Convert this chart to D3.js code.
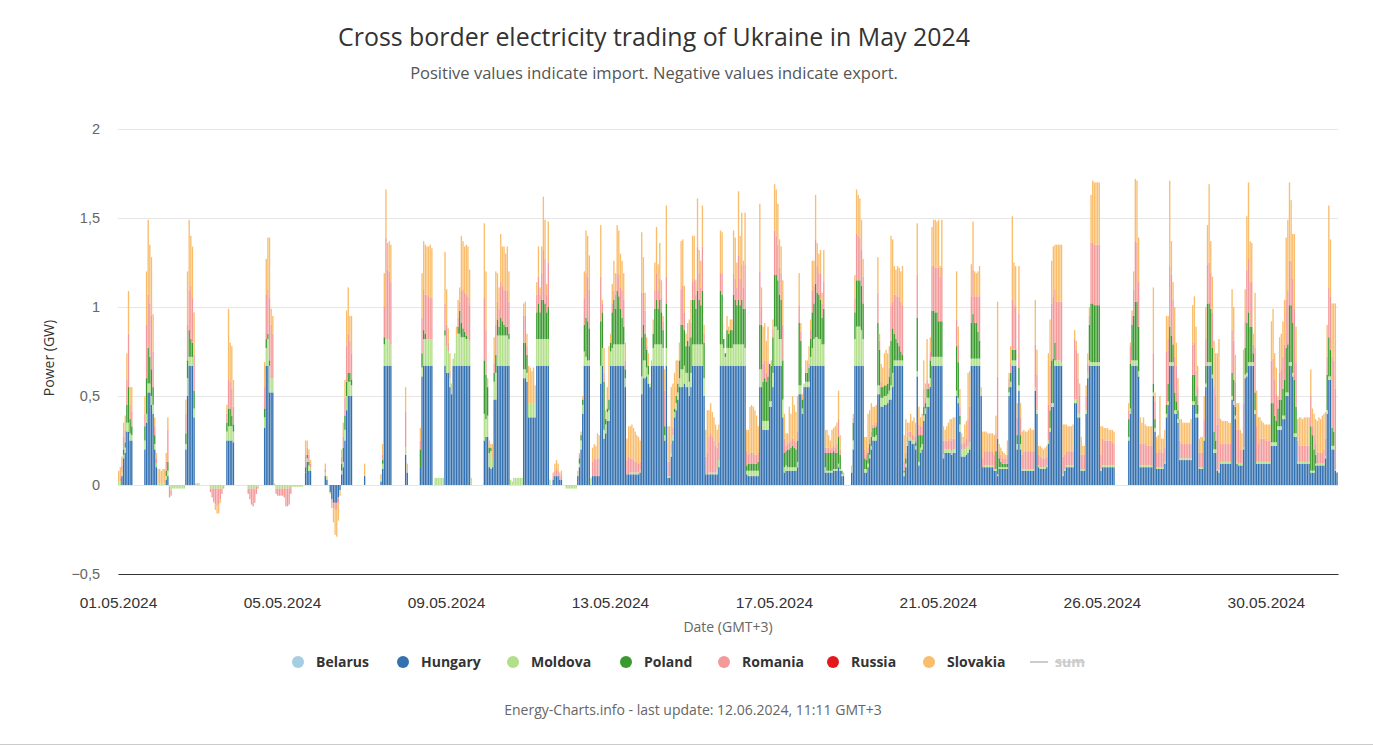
<!DOCTYPE html>
<html><head><meta charset="utf-8">
<script src="https://cdn.jsdelivr.net/npm/d3@7"></script>
<style>
body{margin:0;background:#fff;}
svg{display:block;font-family:"Open Sans","Noto Sans",sans-serif;}
</style></head><body>
<svg id="chart" width="1373" height="746"></svg>
<script>
// ---- DATA (hourly, May 2024, values in hundredths of GW; one row per day) ----
const countries = ["Belarus","Hungary","Moldova","Poland","Romania","Russia","Slovakia"];
const seriesColors = ["#a6cee3","#3471b0","#b2df8a","#3a9a2e","#f4999a","#e31a1c","#f9bd6c"];
const belarus = []; // no exchange recorded
const russia = [];  // no exchange recorded
const hungary = [
[0,0,5,15,18,30,30,25,25,0,0,0,0,0,0,0,20,35,52,52,45,40,20,10],
[0,0,0,0,0,3,5,0,0,0,0,0,0,0,0,0,0,20,50,67,67,67,38,0],
[0,0,0,0,0,0,0,0,0,0,0,0,0,0,0,0,0,0,25,25,25,25,24,0],
[0,0,0,0,0,0,0,0,0,0,0,0,0,0,0,0,0,32,67,67,52,52,52,0],
[0,0,0,0,0,0,0,0,0,0,0,0,0,0,0,0,0,0,7,13,8,8,0,0],
[0,0,0,0,0,0,5,3,0,-4,-8,-10,-10,-10,-7,-3,6,10,25,42,50,50,50,0],
[0,0,0,0,0,0,5,0,0,0,0,0,0,0,0,0,2,9,67,67,67,67,67,0],
[0,0,0,0,0,0,0,17,7,0,0,0,0,0,0,0,10,61,67,67,67,67,67,67],
[0,0,0,0,0,0,0,67,63,63,55,51,67,67,67,67,67,67,67,67,67,67,67,0],
[0,0,0,0,0,0,0,25,27,27,10,9,10,48,48,67,67,67,67,67,67,67,67,0],
[0,0,0,0,0,0,0,60,60,58,38,38,38,38,38,67,67,67,67,67,67,67,67,0],
[0,3,5,5,5,3,3,0,0,0,0,0,0,0,0,0,5,10,20,40,67,67,67,67],
[0,5,5,5,5,5,57,67,26,29,36,36,67,67,67,67,67,67,67,67,67,55,6,6],
[6,6,6,6,6,6,7,51,60,60,61,57,55,67,67,67,67,67,67,67,67,25,67,4],
[4,16,25,38,42,48,55,55,55,57,55,55,50,55,67,67,67,67,67,67,67,50,6,6],
[6,6,6,6,6,6,10,67,67,67,67,67,67,67,67,67,67,67,67,67,67,67,67,6],
[5,5,5,5,5,5,5,55,55,31,31,31,31,44,44,55,67,67,67,67,67,38,7,8],
[8,8,8,8,8,8,10,51,51,40,55,55,55,55,67,67,67,67,67,67,67,67,67,7],
[7,7,7,7,8,8,8,10,8,5,5,0,0,0,0,7,20,67,67,67,67,67,67,7],
[7,10,15,20,25,25,25,51,51,44,44,45,45,46,48,48,55,67,67,67,67,67,67,5],
[10,22,25,25,23,23,20,61,11,18,20,36,40,44,44,55,67,67,67,67,67,67,67,15],
[18,18,18,18,17,18,18,50,46,30,16,16,16,17,18,20,67,67,67,67,67,67,50,10],
[10,10,10,10,10,10,8,8,5,9,9,9,9,9,9,50,55,67,67,67,20,53,20,8],
[8,8,8,8,8,8,8,53,40,10,9,9,9,9,10,23,30,44,44,67,67,67,67,67],
[5,8,10,10,10,10,10,46,46,38,38,8,8,8,40,60,67,67,67,67,67,67,67,8],
[10,10,10,10,10,10,10,10,0,0,0,0,0,0,0,0,25,40,67,67,67,67,61,10],
[10,10,10,10,10,10,10,50,30,9,9,9,9,9,12,38,45,67,67,67,40,40,35,14],
[14,14,14,14,14,14,14,45,45,38,38,9,9,9,25,55,67,67,67,60,18,18,8,7],
[12,12,12,12,12,12,12,48,45,37,12,11,11,11,20,60,61,67,67,67,67,40,12,12],
[12,12,12,12,12,12,12,22,22,22,22,31,31,31,37,37,50,50,67,67,61,27,27,12],
[12,12,12,12,12,12,12,7,7,7,11,11,11,11,11,11,15,40,59,59,20,20,8,7]
].flat();
const moldova = [
[2,2,2,2,3,5,5,4,3,0,0,0,0,0,0,0,5,5,5,5,5,5,3,2],
[1,1,1,1,1,2,3,-1,-3,-2,-2,-2,-2,-2,-2,-2,-2,3,10,5,5,5,5,1],
[1,1,0,0,0,0,0,0,-2,-2,-2,-2,-2,-2,-2,-2,-1,0,5,8,8,8,6,0],
[0,0,0,0,0,0,0,-2,-2,-2,-2,-2,-1,-1,0,0,0,6,10,15,15,8,8,1],
[-2,-2,-2,-2,-2,-2,-2,-2,-2,-1,-1,-1,-1,-1,-1,-1,-1,0,0,2,3,2,0,0],
[0,0,0,0,0,0,2,1,0,-1,0,0,0,0,0,0,2,3,6,8,8,8,6,0],
[0,0,0,0,0,0,0,0,0,0,0,0,0,0,0,0,1,3,12,15,15,15,12,0],
[0,0,0,0,0,0,0,4,0,0,0,0,0,0,0,0,0,5,15,15,15,15,15,15],
[0,4,4,4,4,4,4,17,15,12,5,3,4,7,17,18,18,16,16,16,15,15,14,4],
[0,0,0,0,0,0,0,15,10,12,8,10,4,10,15,17,17,17,17,17,17,17,15,3],
[2,4,4,4,4,4,4,5,5,5,8,8,8,8,8,15,15,15,15,15,15,15,15,3],
[0,0,0,0,0,0,0,0,0,-2,-2,-2,-2,-2,-2,-2,1,2,5,5,8,5,3,3],
[4,0,0,0,0,0,10,10,5,5,5,6,8,10,12,12,12,12,12,12,12,5,0,0],
[1,1,1,1,1,1,1,10,10,10,5,5,2,3,10,12,12,12,12,12,10,3,10,1],
[1,2,3,3,4,4,5,10,10,10,8,8,8,8,12,12,12,12,12,12,12,10,0,0],
[1,1,1,1,1,3,4,12,12,10,5,10,10,10,10,12,12,12,12,12,12,12,10,2],
[3,3,3,3,3,3,3,10,10,5,5,5,5,3,3,8,22,22,20,15,15,10,3,3],
[2,2,2,2,2,2,3,5,5,3,2,3,3,3,5,10,15,16,16,15,15,12,12,3],
[1,1,1,1,1,1,1,2,1,1,2,0,0,0,0,2,5,15,22,22,22,20,15,2],
[2,2,2,2,2,2,3,5,5,5,5,5,5,5,5,8,8,3,3,3,3,3,3,2],
[2,2,2,2,2,2,2,3,2,3,3,3,3,5,5,5,5,5,5,5,5,5,5,2],
[2,2,2,2,2,2,2,3,3,4,4,4,4,4,4,4,4,4,4,4,4,4,2,0],
[1,1,1,1,1,1,1,1,1,1,1,1,1,1,1,2,3,3,3,3,3,3,3,1],
[1,1,1,1,1,1,1,2,2,1,1,1,1,1,1,2,2,2,2,3,3,3,3,2],
[1,1,1,1,1,1,1,2,2,2,2,1,1,1,2,3,3,2,2,2,2,2,2,1],
[1,1,1,1,1,1,1,1,0,0,0,0,0,0,0,0,2,3,3,3,3,3,3,1],
[1,1,1,1,1,1,1,2,2,1,1,1,1,1,1,2,2,2,2,2,2,2,2,1],
[1,1,1,1,1,1,1,2,2,2,2,1,1,1,2,2,2,2,2,2,2,2,1,1],
[1,1,1,1,1,1,1,2,2,2,1,1,1,1,1,2,2,2,2,2,2,2,1,1],
[1,1,1,1,1,1,1,2,2,2,2,2,2,2,2,2,2,2,2,2,2,2,2,1],
[1,1,1,1,1,1,1,1,1,1,1,1,1,1,1,1,1,2,2,2,2,2,1,0]
].flat();
const poland = [
[0,0,0,3,3,10,20,8,5,0,0,0,0,0,0,0,8,20,20,15,15,10,5,0],
[0,0,0,0,0,3,5,0,0,0,0,0,0,0,0,0,0,6,10,15,10,8,10,0],
[0,0,0,0,0,0,0,0,0,0,0,0,0,0,0,0,0,0,5,10,10,6,4,0],
[0,0,0,0,0,0,0,0,0,0,0,0,0,0,0,0,0,5,5,3,3,0,0,0],
[0,0,0,0,0,0,0,0,0,0,0,0,0,0,0,0,0,0,3,2,2,0,0,0],
[0,0,0,0,0,0,0,0,0,0,0,0,0,0,0,0,4,8,8,8,5,5,3,0],
[0,0,0,0,0,0,0,0,0,0,0,0,0,0,0,0,0,2,4,0,0,0,0,0],
[0,0,0,0,0,0,0,0,0,0,0,0,0,0,0,0,10,8,5,3,0,0,0,0],
[0,0,0,0,0,0,0,3,0,0,0,0,0,0,0,4,13,8,5,3,2,0,0,0],
[0,0,0,0,0,0,0,30,25,16,3,2,0,5,10,9,5,10,8,6,5,5,3,0],
[0,0,0,0,0,0,0,15,15,10,0,0,0,0,0,15,20,15,22,22,20,15,18,0],
[0,0,0,0,0,0,0,0,0,0,0,0,0,0,0,0,0,3,3,3,15,22,22,18],
[0,0,0,0,0,0,25,20,27,3,2,6,5,20,25,20,30,27,20,15,10,5,0,0],
[0,0,0,0,0,0,0,22,20,15,10,5,0,0,8,20,25,20,25,18,10,5,25,0],
[0,0,0,2,4,5,10,25,25,20,15,18,20,20,25,25,20,30,25,22,30,20,0,0],
[0,0,0,0,0,0,0,30,28,5,2,10,8,10,10,28,25,22,25,22,25,20,22,3],
[4,4,4,4,4,4,5,25,25,22,24,22,25,21,20,20,29,29,28,25,22,22,8,8],
[10,10,11,12,11,10,12,35,25,5,0,5,5,8,10,20,20,30,25,25,22,15,20,8],
[10,10,10,10,10,9,9,15,8,2,0,0,0,0,0,0,10,15,26,26,26,25,20,6],
[5,6,6,5,5,5,5,35,20,6,6,6,6,6,8,25,25,15,12,10,8,5,3,1],
[3,0,0,0,0,0,2,30,15,7,5,5,3,5,5,10,26,26,25,25,20,20,20,0],
[0,0,0,0,0,0,0,25,20,5,0,0,0,0,0,0,20,25,20,20,15,10,0,0],
[0,0,0,0,0,0,0,10,20,5,3,2,2,2,2,3,5,6,6,6,5,10,5,0],
[0,0,0,0,0,0,0,0,0,0,0,0,0,0,0,0,10,24,25,10,0,0,0,0],
[0,0,0,0,0,0,0,0,0,0,0,0,0,0,0,0,20,33,33,32,32,32,32,0],
[0,0,0,0,0,0,0,0,0,0,0,0,0,0,0,0,10,25,20,25,33,33,25,0],
[0,0,0,0,0,0,0,5,5,0,0,0,0,0,0,5,10,20,15,10,10,5,5,0],
[0,0,0,0,0,0,0,15,15,10,5,0,0,0,0,10,33,33,30,15,10,5,0,0],
[0,0,0,0,0,0,0,13,12,5,0,0,0,0,0,15,28,28,20,20,5,10,0,0],
[0,0,0,0,0,0,0,22,22,15,12,10,15,15,15,20,25,27,32,32,28,30,15,0],
[0,0,0,0,0,0,0,25,20,12,5,0,0,0,0,0,0,20,22,15,10,8,0,0]
].flat();
const romania = [
[0,2,4,7,7,14,30,8,8,0,0,0,0,0,0,0,7,30,30,30,30,20,5,3],
[0,0,0,0,0,5,18,-6,-3,0,0,0,0,0,0,0,0,11,20,22,30,25,20,0],
[0,0,0,0,0,0,0,0,-2,-5,-7,-9,-10,-9,-6,-3,-1,0,5,16,15,15,10,0],
[0,0,0,0,0,0,0,-3,-6,-9,-10,-8,-4,-1,0,0,0,12,25,25,35,30,25,0],
[-3,-4,-4,-4,-4,-5,-10,-10,-9,-4,0,0,0,0,0,0,0,0,7,4,4,2,0,0],
[0,0,0,0,0,0,2,0,0,0,-2,-3,-4,-4,-3,0,4,6,10,20,22,18,15,0],
[0,0,0,0,0,0,0,0,0,0,0,0,0,0,0,0,0,3,17,57,39,38,35,0],
[0,0,0,0,0,0,0,20,0,0,0,0,0,0,0,0,5,20,23,22,25,24,23,23],
[0,0,0,0,0,0,0,15,12,5,4,0,0,0,0,5,5,18,22,22,23,24,20,0],
[0,0,0,0,0,0,0,35,25,0,0,0,0,5,17,10,10,20,20,20,20,20,18,0],
[0,0,0,0,0,0,0,15,15,5,0,0,0,0,0,10,15,10,15,28,25,10,25,0],
[0,2,3,4,3,2,2,0,0,0,0,0,0,0,0,0,0,2,0,0,15,25,25,22],
[0,8,10,9,10,10,25,5,5,0,0,0,0,5,5,8,10,12,12,15,15,5,8,10],
[8,8,7,6,6,5,5,25,18,13,2,0,0,0,0,10,15,10,12,8,5,20,15,8],
[8,5,4,0,0,0,0,20,22,10,0,0,5,8,10,12,8,25,15,10,25,5,10,12],
[20,22,20,18,15,12,10,10,12,0,0,0,0,0,0,12,12,10,25,15,20,12,25,8],
[5,6,6,6,5,5,5,30,10,10,10,5,8,0,0,5,25,22,20,15,15,20,8,3],
[3,4,4,4,4,4,5,10,5,0,0,0,0,2,5,12,10,25,15,12,15,8,15,3],
[3,3,2,3,3,3,5,10,3,0,0,0,0,0,0,0,3,8,26,25,24,20,15,5],
[3,3,3,3,2,2,2,17,5,3,0,0,0,0,5,20,15,22,25,26,28,28,28,5],
[3,3,3,3,3,3,3,24,6,5,5,10,3,5,3,5,25,25,25,25,30,25,30,8],
[5,5,5,6,6,6,6,15,10,5,3,3,4,5,15,20,15,25,15,15,20,25,0,5],
[8,8,8,8,8,8,8,10,35,4,4,3,3,3,5,5,5,28,25,24,10,30,10,8],
[10,10,10,10,10,10,10,24,20,6,6,5,5,5,5,20,25,32,35,30,33,33,33,34],
[10,8,8,8,8,8,8,34,28,20,10,8,8,8,8,5,5,34,34,34,34,34,34,8],
[15,14,14,14,14,14,13,12,0,0,0,0,0,0,0,0,5,10,5,15,34,33,25,12],
[12,12,12,11,11,11,11,17,10,8,8,10,8,8,8,30,25,34,34,25,20,20,10,10],
[8,8,8,8,8,8,8,17,18,14,10,8,8,8,10,15,22,23,20,20,25,25,25,30],
[10,10,10,10,10,10,10,24,22,14,18,19,8,8,25,15,30,30,25,25,5,25,20,10],
[13,13,13,13,12,12,12,24,25,20,15,5,15,17,18,20,27,30,25,25,25,40,25,12],
[9,9,9,9,9,9,9,17,5,8,6,6,6,6,6,8,10,10,28,30,40,40,45,0]
].flat();
const slovakia = [
[6,6,5,8,8,15,24,10,14,0,0,0,0,0,0,0,10,30,42,33,33,21,5,3],
[8,8,7,8,8,5,7,0,0,0,0,0,0,0,0,0,0,8,30,40,28,29,24,0],
[0,0,0,0,0,0,0,0,0,0,-1,-3,-4,-5,-2,0,0,0,5,40,22,24,15,0],
[0,0,0,0,0,0,0,0,0,0,0,0,0,0,0,0,0,14,20,29,34,9,10,0],
[0,0,0,0,0,0,0,0,0,0,0,0,0,0,0,0,0,0,8,4,3,2,0,0],
[0,0,0,0,0,0,3,1,0,0,-3,-8,-14,-15,-10,-3,4,8,10,20,26,14,21,0],
[0,0,0,0,0,0,7,0,0,0,0,0,0,0,0,0,3,6,19,27,15,17,21,0],
[0,0,0,0,0,0,0,14,5,0,0,0,0,0,0,0,7,25,27,28,27,28,30,28],
[0,0,0,0,0,0,0,29,20,8,10,3,0,0,5,10,8,31,27,26,28,28,20,0],
[0,0,0,0,0,0,0,42,33,5,4,2,9,15,30,16,12,27,22,24,21,25,17,0],
[0,0,0,0,0,0,0,7,8,7,21,20,18,20,10,7,17,4,15,30,22,6,23,0],
[0,2,4,5,4,2,3,0,0,0,0,0,0,0,0,0,2,1,2,2,15,24,23,19],
[0,8,8,8,14,13,29,2,14,5,12,30,5,11,17,12,27,25,19,17,15,10,12,17],
[18,19,18,17,15,15,12,34,20,10,5,7,0,0,8,16,26,15,20,10,3,12,40,20],
[20,32,25,20,20,13,10,27,26,15,7,10,10,13,26,24,8,27,13,15,23,5,15,24],
[15,17,14,13,12,10,10,24,23,0,0,8,4,6,6,24,23,14,36,24,29,15,29,12],
[14,26,27,26,25,22,15,38,11,21,21,18,20,0,3,5,26,26,23,16,15,25,14,7],
[6,20,15,24,20,17,20,18,5,3,0,7,7,10,6,17,14,25,13,11,13,6,18,10],
[10,7,5,10,10,12,12,16,8,0,0,0,0,0,0,2,2,13,25,23,22,17,10,7],
[10,19,16,16,10,10,10,20,4,10,11,18,20,17,12,39,35,16,14,17,16,17,22,15],
[19,8,5,10,8,10,8,29,10,5,7,16,8,23,0,8,22,26,27,26,27,6,27,8],
[6,8,10,11,12,12,12,27,10,10,6,4,10,10,26,20,18,27,14,13,14,17,3,15],
[11,11,10,10,10,10,11,10,42,4,4,4,3,2,8,3,10,47,24,23,8,27,8,13],
[12,11,11,12,13,12,12,25,14,5,6,6,5,6,6,29,26,24,28,25,32,32,32,32],
[18,17,15,14,14,14,15,5,5,14,7,10,5,5,6,6,5,27,35,35,35,35,35,16],
[7,7,7,7,6,6,7,7,0,0,0,0,0,0,0,0,4,2,3,10,35,35,25,15],
[12,15,11,11,11,11,11,37,5,9,10,30,8,8,10,20,13,48,19,10,28,13,8,12],
[14,12,12,12,12,12,14,22,26,25,12,8,9,9,13,18,22,44,18,20,26,24,40,44],
[14,13,13,13,13,12,12,23,19,15,15,15,11,9,30,18,30,43,23,22,6,31,20,15],
[12,10,9,8,9,9,9,22,28,15,15,2,20,20,20,25,35,40,44,34,25,42,20,12],
[16,16,15,16,16,16,16,15,10,12,14,18,20,19,21,20,15,18,46,32,30,32,48,0]
].flat();
const UNIT = 0.01; // stored values are hundredths of a GW
const hoursInMonth = 744;
const tickHours = [0,100,200,300,400,500,600,700];
const tickLabels = ["01.05.2024","05.05.2024","09.05.2024","13.05.2024","17.05.2024","21.05.2024","26.05.2024","30.05.2024"];
const yTicks = [-0.5,0,0.5,1,1.5,2];
const yTickLabels = ["\u22120,5","0","0,5","1","1,5","2"];

// ---- BUILD ----
const seriesData = [belarus,hungary,moldova,poland,romania,russia,slovakia];
const rows = d3.range(hoursInMonth).map(h => {
  const r = {h};
  countries.forEach((c,i) => r[c] = (seriesData[i][h] || 0) * UNIT);
  return r;
});
const stacked = d3.stack().keys(countries).offset(d3.stackOffsetDiverging)(rows);

const svg = d3.select("#chart");
const L = 118, R = 1338, T = 129, B = 574;
const x = d3.scaleLinear().domain([0, hoursInMonth]).range([L, R]);
const y = d3.scaleLinear().domain([-0.5, 2]).range([B, T]);
const color = d3.scaleOrdinal().domain(countries).range(seriesColors);

// gridlines + y labels
const yAxis = svg.append("g").attr("transform", `translate(${L},0)`)
  .call(d3.axisLeft(y).tickValues(yTicks).tickFormat((d,i)=>yTickLabels[i]).tickSize(-(R-L)).tickPadding(18));
yAxis.select(".domain").remove();
yAxis.selectAll("line").attr("stroke","#e6e6e6");
yAxis.selectAll("text").attr("fill","#666").style("font-size","14.5px").attr("font-family",null);

// bars
const step = x(1) - x(0);
svg.append("g").selectAll("g").data(stacked).join("g")
  .attr("fill", d => color(d.key))
  .selectAll("rect").data(d => d.filter(p => p[1] !== p[0])).join("rect")
  .attr("x", p => x(p.data.h))
  .attr("width", step - 0.3)
  .attr("y", p => y(Math.max(p[0], p[1])))
  .attr("height", p => Math.abs(y(p[0]) - y(p[1])));

// x axis
const xAxis = svg.append("g").attr("transform", `translate(0,${B})`)
  .call(d3.axisBottom(x).tickValues(tickHours).tickFormat((d,i)=>tickLabels[i]).tickSize(0).tickPadding(23));
xAxis.select(".domain").attr("stroke","#333").attr("stroke-width",1);
xAxis.selectAll("text").attr("fill","#333").style("font-size","15.5px").attr("font-family",null);

// axis titles
svg.append("text").attr("transform","translate(54,358) rotate(-90)").attr("text-anchor","middle")
  .attr("fill","#333").style("font-size","14px").text("Power (GW)");
svg.append("text").attr("x",(L+R)/2).attr("y",632).attr("text-anchor","middle")
  .attr("fill","#666").style("font-size","14px").text("Date (GMT+3)");

// title / subtitle / footer (fitted to target widths)
function fitText(sel, width){
  const w = sel.node().getComputedTextLength();
  const fs = parseFloat(sel.style("font-size"));
  sel.style("font-size", (fs*width/w).toFixed(2)+"px");
}
const title = svg.append("text").attr("x",654).attr("y",46).attr("text-anchor","middle")
  .attr("fill","#333").style("font-size","24px").text("Cross border electricity trading of Ukraine in May 2024");
fitText(title, 632);
const sub = svg.append("text").attr("x",654).attr("y",79).attr("text-anchor","middle")
  .attr("fill","#555").style("font-size","16px").text("Positive values indicate import. Negative values indicate export.");
fitText(sub, 488);
const foot = svg.append("text").attr("x",693).attr("y",715).attr("text-anchor","middle")
  .attr("fill","#666").style("font-size","13px").text("Energy-Charts.info - last update: 12.06.2024, 11:11 GMT+3");
fitText(foot, 378);

// legend
const legendX = [298,403,513,626,724,833,929];
const lg = svg.append("g");
countries.forEach((c,i) => {
  lg.append("circle").attr("cx",legendX[i]).attr("cy",662).attr("r",6).attr("fill",color(c));
  lg.append("text").attr("x",legendX[i]+18).attr("y",667).attr("fill","#333")
    .style("font-size","14px").style("font-weight","bold").text(c);
});
lg.append("line").attr("x1",1030).attr("x2",1048).attr("y1",662).attr("y2",662).attr("stroke","#ccc").attr("stroke-width",2);
lg.append("text").attr("x",1055).attr("y",667).attr("fill","#ccc").style("font-size","14px")
  .style("font-weight","bold").style("text-decoration","line-through").text("sum");

// bottom frame line
svg.append("line").attr("x1",0).attr("x2",1373).attr("y1",744.5).attr("y2",744.5).attr("stroke","#ccc");
</script>
</body></html>
